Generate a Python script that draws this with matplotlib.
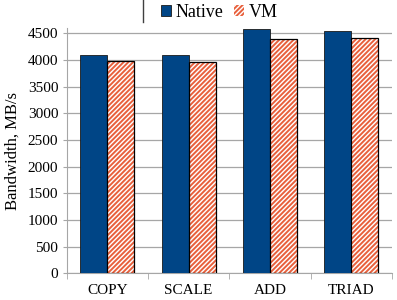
import numpy as np
import matplotlib.pyplot as plt
from matplotlib.lines import Line2D

categories = ["COPY", "SCALE", "ADD", "TRIAD"]
native = [4098, 4100, 4574, 4543]
vm = [3980, 3963, 4389, 4407]
yticks = [0, 500, 1000, 1500, 2000, 2500, 3000, 3500, 4000, 4500]

plt.rcParams["font.family"] = ["Liberation Serif", "DejaVu Serif"]
plt.rcParams["hatch.color"] = "#E8603C"
plt.rcParams["hatch.linewidth"] = 1.4

fig = plt.figure(figsize=(3.97, 3.0), dpi=100)
ax = fig.add_axes([0.168, 0.089, 0.819, 0.818])

x = np.arange(len(categories))
w = 1 / 3
ax.bar(x - w / 2, native, w, color="#004586", edgecolor="#1a1a1a",
       linewidth=0.6, label="Native", zorder=3)
ax.bar(x + w / 2, vm, w, color="white", edgecolor="#E8603C", hatch="///////",
       linewidth=0, label="VM", zorder=3)
ax.bar(x + w / 2, vm, w, color="none", edgecolor="black", linewidth=0.9, zorder=4)

ax.set_xlim(-0.5, len(categories) - 0.5)
ax.set_ylim(0, 4600)
ax.set_yticks(yticks)
ax.yaxis.grid(True, color="#A6A6A6", linewidth=0.9, zorder=0)
ax.set_axisbelow(True)

ax.set_xticks(x)
ax.set_xticklabels(categories)
ax.set_xticks(np.arange(len(categories) + 1) - 0.5, minor=True)
ax.tick_params(axis="x", which="major", length=0, pad=8, labelsize=11)
ax.tick_params(axis="x", which="minor", length=4, color="#A6A6A6")
ax.tick_params(axis="y", length=3, color="#A6A6A6", labelsize=11, pad=3)

for s in ["top", "right"]:
    ax.spines[s].set_visible(False)
for s in ["left", "bottom"]:
    ax.spines[s].set_color("#A6A6A6")

ax.set_ylabel("Bandwidth, MB/s", fontsize=12, labelpad=5)

ax.legend(loc="upper left", bbox_to_anchor=(0.268, 1.128), ncol=2, frameon=False,
          fontsize=13, handlelength=0.55, handleheight=0.55, handletextpad=0.25,
          columnspacing=0.6, borderaxespad=0)

fig.add_artist(Line2D([143 / 397, 143 / 397], [1.0, 1 - 22 / 300],
                      color="#404040", linewidth=1.0, transform=fig.transFigure))

fig.savefig("out.png", dpi=100)
